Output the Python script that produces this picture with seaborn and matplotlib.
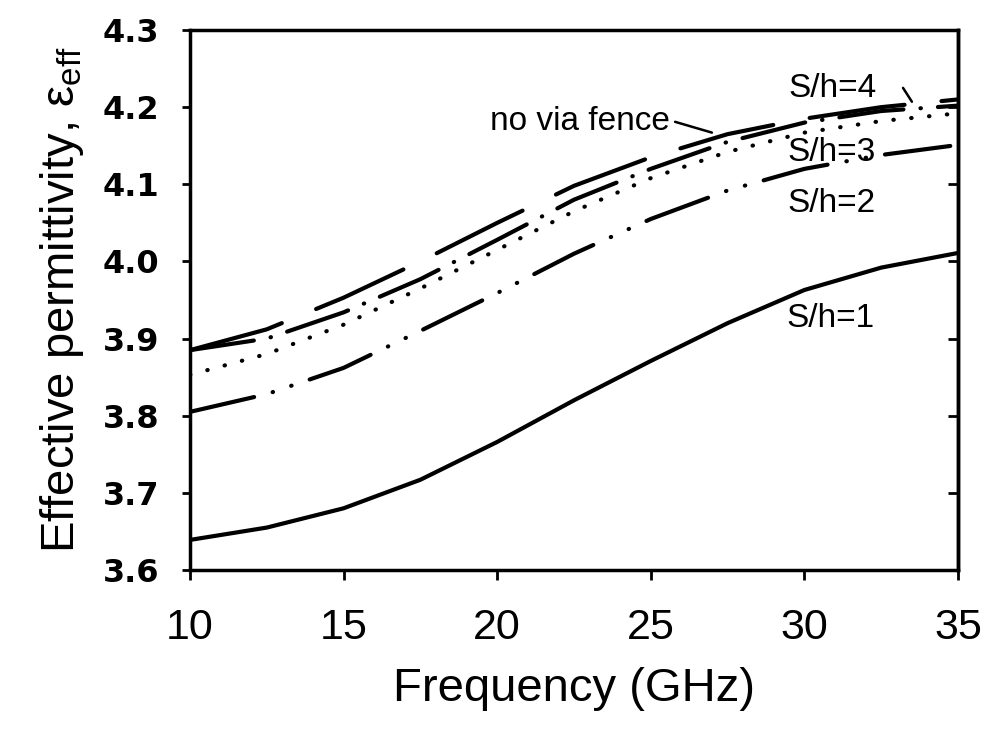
import numpy as np
import pandas as pd
import matplotlib
matplotlib.use("Agg")
import matplotlib.pyplot as plt
import seaborn as sns

# ---- data ----
freq = [10, 12.5, 15, 17.5, 20, 22.5, 25, 27.5, 30, 32.5, 35]
no_via = [3.885, 3.912, 3.953, 4.000, 4.050, 4.098, 4.135, 4.165, 4.185, 4.200, 4.210]
sh4 = [3.885, 3.900, 3.934, 3.977, 4.028, 4.080, 4.120, 4.155, 4.180, 4.195, 4.202]
sh3 = [3.853, 3.880, 3.918, 3.965, 4.015, 4.065, 4.108, 4.142, 4.167, 4.182, 4.192]
sh2 = [3.805, 3.828, 3.862, 3.910, 3.959, 4.010, 4.055, 4.092, 4.120, 4.138, 4.151]
sh1 = [3.639, 3.655, 3.680, 3.717, 3.766, 3.820, 3.871, 3.920, 3.963, 3.992, 4.011]
cases = ["no via fence", "S/h=4", "S/h=3", "S/h=2", "S/h=1"]
xticks = [10, 15, 20, 25, 30, 35]
yticks = [3.6, 3.7, 3.8, 3.9, 4.0, 4.1, 4.2, 4.3]

series = [no_via, sh4, sh3, sh2, sh1]
df = pd.DataFrame({
    "freq": np.tile(freq, len(cases)),
    "eps": np.concatenate(series),
    "case": np.repeat(cases, len(freq)),
})

sns.set_style("white")
plt.rcParams["font.family"] = ["Liberation Sans", "DejaVu Sans"]
plt.rcParams["mathtext.fontset"] = "custom"
plt.rcParams["mathtext.rm"] = "Liberation Sans"
plt.rcParams["mathtext.it"] = "Liberation Sans:italic"
plt.rcParams["lines.dash_capstyle"] = "round"
plt.rcParams["lines.solid_capstyle"] = "round"
for k in ["text.color", "axes.labelcolor", "xtick.color", "ytick.color", "axes.edgecolor"]:
    plt.rcParams[k] = "black"

fig = plt.figure(figsize=(9.91, 7.32), dpi=100)
ax = fig.add_axes([0.1917, 0.2213, 0.7750, 0.7377])

dashes = {
    "no via fence": (23.0, 8.9),
    "S/h=4": (15.5, 4.1, 0.1, 4.1),
    "S/h=3": (0.1, 4.2),
    "S/h=2": (15.8, 4.6, 0.1, 4.6, 0.1, 4.6),
    "S/h=1": "",
}
palette = {c: "black" for c in cases}
sns.lineplot(data=df, x="freq", y="eps", hue="case", style="case",
             dashes=dashes, palette=palette, linewidth=3.0,
             estimator=None, legend=False, ax=ax)

ax.set_xlim(10, 35)
ax.set_ylim(3.6, 4.3)
ax.set_xticks(xticks)
ax.set_yticks(yticks)
ax.set_xticklabels([str(t) for t in xticks], fontsize=31)
ax.set_yticklabels([f"{t:.1f}" for t in yticks], fontsize=23,
                   fontweight="bold", family=["DejaVu Sans"])
ax.tick_params(axis="x", direction="out", length=7, width=2, pad=20, bottom=True)
ax.tick_params(axis="y", direction="out", length=6, width=2, pad=16, left=True)
for s in ax.spines.values():
    s.set_linewidth(2.5)
    s.set_color("black")

ax2 = ax.twinx()
ax2.set_ylim(3.6, 4.3)
ax2.set_yticks(yticks)
ax2.tick_params(axis="y", direction="in", length=7, width=2, labelright=False, right=True)
ax2.spines["right"].set_linewidth(2.5)
ax2.grid(False)

ax.set_xlabel("Frequency (GHz)", fontsize=34, labelpad=14)
ax.set_ylabel("Effective permittivity, ε$_{\\mathrm{eff}}$", fontsize=34, labelpad=12)

tfs = 24
ax.text(19.77, 4.170, "no via fence", fontsize=tfs, ha="left", va="baseline")
ax.plot([25.79, 26.99], [4.181, 4.167], color="black", lw=1.8)
ax.text(29.47, 4.213, "S/h=4", fontsize=tfs, ha="left", va="baseline")
ax.plot([33.21, 33.50], [4.225, 4.207], color="black", lw=1.8)
ax.text(29.44, 4.130, "S/h=3", fontsize=tfs, ha="left", va="baseline")
ax.text(29.44, 4.064, "S/h=2", fontsize=tfs, ha="left", va="baseline")
ax.text(29.40, 3.915, "S/h=1", fontsize=tfs, ha="left", va="baseline")

fig.savefig("out.png", dpi=100)
